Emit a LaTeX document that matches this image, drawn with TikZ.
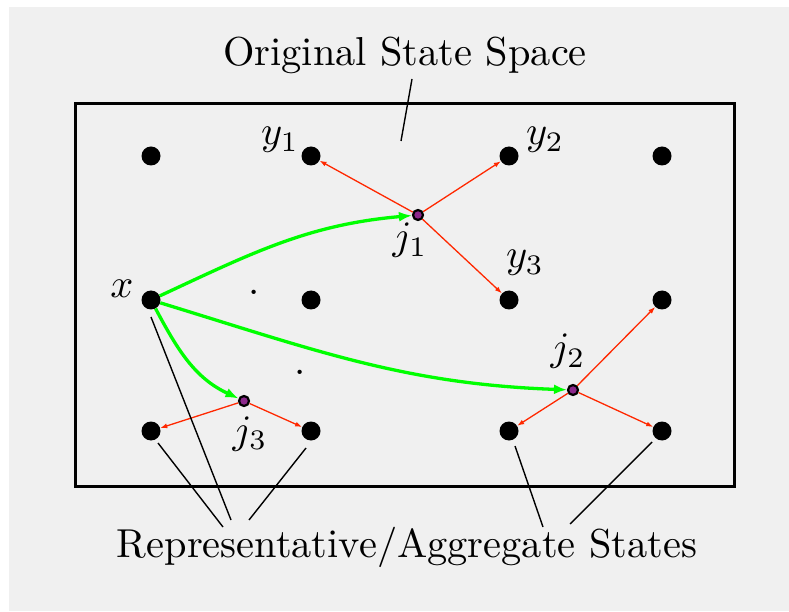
\RequirePackage{fix-cm}
\documentclass[tikz,border=0pt]{standalone}
\usepackage{fontspec}
\usetikzlibrary{arrows.meta}
\definecolor{bggray}{RGB}{240,240,240}
\definecolor{myred}{RGB}{255,40,0}
\definecolor{mygreen}{RGB}{0,255,0}
\definecolor{mypurple}{RGB}{140,40,140}
\begin{document}
\begin{tikzpicture}[x=1pt,y=1pt,
  state/.style={circle,fill=black,minimum size=19pt,inner sep=0pt},
  agg/.style={circle,draw=black,line width=2.2pt,fill=mypurple,minimum size=10pt,inner sep=0pt},
  lbl/.style={font=\fontsize{10}{12}\selectfont,scale=4.04,inner sep=0pt,anchor=base},
  redarr/.style={draw=myred,line width=1.3pt,-{Latex[length=7pt,width=5pt]}},
  greenarr/.style={draw=mygreen,line width=3.3pt,-{Latex[length=13pt,width=10pt]}},
  thinline/.style={line width=1.4pt}
]
\useasboundingbox (0,0) rectangle (789,611);
\fill[bggray] (9,0) rectangle (789,604);
\node[draw,line width=3pt,minimum width=659pt,minimum height=382pt,inner sep=0pt] (frame) at (404.5,316) {};

% states
\node[state] (a1) at (151,455) {};
\node[state] (a2) at (311,455) {};
\node[state] (a3) at (509,455) {};
\node[state] (a4) at (662,455) {};
\node[state] (b1) at (151,311) {};
\node[state] (b2) at (311,311) {};
\node[state] (b3) at (509,311) {};
\node[state] (b4) at (662,311) {};
\node[state] (c1) at (151,180) {};
\node[state] (c2) at (311,180) {};
\node[state] (c3) at (509,180) {};
\node[state] (c4) at (662,180) {};

% aggregate points
\node[agg] (j1) at (418,396) {};
\node[agg] (j2) at (573,221) {};
\node[agg] (j3) at (244,210) {};

% labels
\node[lbl] (title) at (405,545) {Original State Space};
\node[lbl] (rep) at (407,54) {Representative/Aggregate States};
\node[lbl] (ly1) at (280,466) {$y_1$};
\node[lbl] (ly2) at (545,466) {$y_2$};
\node[lbl] (ly3) at (525,343) {$y_3$};
\node[lbl] (lx) at (122,313) {$x$};
\node[lbl] (lj1) at (410,361) {$j_1$};
\node[lbl] (lj2) at (568,250) {$j_2$};
\node[lbl] (lj3) at (250,168) {$j_3$};
\node[lbl] (dot1) at (254,316) {.};
\node[lbl] (dot2) at (300,237) {.};

% red arrows
\draw[redarr] (j1) -- (a2);
\draw[redarr] (j1) -- (a3);
\draw[redarr] (j1) -- (b3);
\draw[redarr] (j2) -- (b4);
\draw[redarr] (j2) -- (c3);
\draw[redarr] (j2) -- (c4);
\draw[redarr] (j3) -- (c1);
\draw[redarr] (j3) -- (c2);

% green arrows
\draw[greenarr] (b1) to[out=25,in=185] (j1);
\draw[greenarr] (b1) to[out=-17,in=178] (j2);
\draw[greenarr] (b1) to[out=-62,in=155] (j3);

% title pointer
\coordinate (t1) at (412,532);
\coordinate (t2) at (401,470);
\draw[thinline] (t1) -- (t2);

% representative pointers
\coordinate (s1) at (151,294);
\coordinate (e1) at (231,91);
\coordinate (s2) at (158,168);
\coordinate (e2) at (223,84);
\coordinate (s3) at (306,163);
\coordinate (e3) at (249,91);
\coordinate (s4) at (515,165);
\coordinate (e4) at (543,84);
\coordinate (s5) at (652,169);
\coordinate (e5) at (570,87);
\draw[thinline] (s1) -- (e1);
\draw[thinline] (s2) -- (e2);
\draw[thinline] (s3) -- (e3);
\draw[thinline] (s4) -- (e4);
\draw[thinline] (s5) -- (e5);
\end{tikzpicture}
\end{document}
